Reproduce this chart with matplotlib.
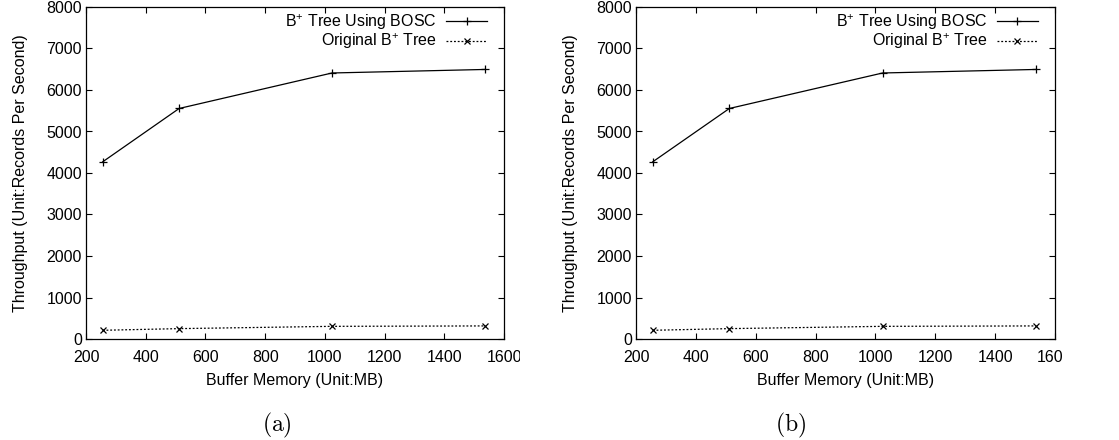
import matplotlib

matplotlib.use("Agg")
import matplotlib.pyplot as plt
from matplotlib.transforms import Bbox, TransformedBbox

plt.rcParams["font.family"] = ["Liberation Sans", "DejaVu Sans"]
plt.rcParams["mathtext.fontset"] = "custom"
plt.rcParams["mathtext.rm"] = "Liberation Sans"
plt.rcParams["mathtext.it"] = "Liberation Sans:italic"
plt.rcParams["font.size"] = 11.5

# buffer size in MB
buffer_mb = [256, 512, 1024, 1536]
bosc_tput = [4270, 5555, 6410, 6495]
orig_tput = [210, 250, 305, 315]

series_labels = ["B$^{+}$ Tree Using BOSC", "Original B$^{+}$ Tree"]
panel_names = ["(a)", "(b)"]
x_ticks = list(range(200, 1601, 200))
y_ticks = list(range(0, 8001, 1000))

W, H = 1119, 440
FS = 11.5
fig = plt.figure(figsize=(W / 100, H / 100), dpi=100)

# axes boxes in pixels: left, right, top, bottom
boxes = [(86, 504, 7, 339), (636, 1055, 7, 339)]
# where each source sub-image was cropped on the right
crop_right = [520, 1062]
caption_x = [277, 791]

for i, (l, r, t, b) in enumerate(boxes):
    ax = fig.add_axes([l / W, (H - b) / H, (r - l) / W, (b - t) / H])
    ax.plot(buffer_mb, bosc_tput, color="black", lw=0.9, marker="+", ms=6, mew=0.9,
            label=series_labels[0])
    ax.plot(buffer_mb, orig_tput, color="black", lw=0.9, ls=(0, (1.5, 1.5)), marker="x",
            ms=4.5, mew=0.9, label=series_labels[1])
    ax.set_xlim(200, 1600)
    ax.set_ylim(0, 8000)
    ax.set_xticks(x_ticks)
    ax.set_yticks(y_ticks)
    ax.tick_params(direction="in", length=4, width=0.8, top=True, right=True,
                   labelsize=FS, pad=3)
    ax.tick_params(axis="x", pad=8)
    for s in ax.spines.values():
        s.set_linewidth(0.9)
    ax.set_xlabel("Buffer Memory (Unit:MB)", fontsize=FS, labelpad=6)
    ax.set_ylabel("Throughput (Unit:Records Per Second)", fontsize=FS, labelpad=13)
    ax.legend(loc="upper right", bbox_to_anchor=(0.96, 0.985), frameon=False,
              markerfirst=False, handlelength=2.6, handletextpad=0.55,
              labelspacing=0.0, borderaxespad=0.0, borderpad=0.0, fontsize=FS)
    clip = TransformedBbox(Bbox([[0, 0], [crop_right[i] / W, 1]]), fig.transFigure)
    for lbl in ax.get_xticklabels():
        lbl.set_clip_box(clip)
        lbl.set_clip_on(True)
    fig.text(caption_x[i] / W, 1 - 425 / H, "$\\mathrm{" + panel_names[i] + "}$",
             ha="center", va="center", fontsize=17, math_fontfamily="cm")

fig.savefig("out.png", dpi=100)
